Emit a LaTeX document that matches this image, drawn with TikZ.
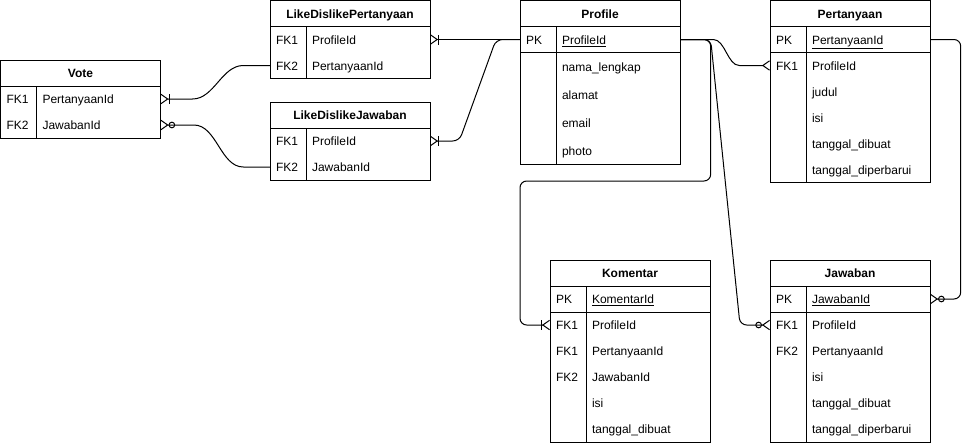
\documentclass[tikz,border=0pt]{standalone}
\usepackage{fontspec}
\setmainfont{Liberation Sans}
\usetikzlibrary{positioning, fit, arrows.meta}

\tikzset{
	erpicture/.style = {
		x = 0.75pt,
		y = -0.75pt,
		line width = 0.75pt,
		font = \fontsize{9}{11}\selectfont,
		relation/.style = {
			draw,
			rounded corners = 5pt,
		}
	},
	tabletitle/.style = {
		draw,
		anchor = north west,
		minimum width = 120pt,
		minimum height = 19.5pt,
		text height = 7pt,
		text depth = 0pt,
		inner sep = 0pt,
		outer sep = 0pt,
		font = \fontsize{9}{11}\selectfont\bfseries
	},
	tablebody/.style = {
		draw,
		inner sep = 0pt
	},
	keycell/.style = {
		minimum height = 19.5pt,
		text height = 7pt,
		text depth = 0pt,
		text width = 18pt,
		align = left,
		inner xsep = 4.5pt,
		inner ysep = 0pt,
		outer sep = 0pt
	},
	fieldcell/.style = {
		minimum height = 19.5pt,
		text height = 7pt,
		text depth = 0pt,
		text width = 84pt,
		align = left,
		inner xsep = 4.5pt,
		inner ysep = 0pt,
		outer sep = 0pt
	},
	tallcell/.style = {
		minimum height = 21pt
	},
	many/.style = {
		-{Straight Barb[reversed, length = 5pt, width = 7pt]}
	},
	one-many/.style = {
		-{Bar[width = 7.5pt] Straight Barb[reversed, length = 5pt, width = 7pt]}
	},
	zero-many/.style = {
		-{Circle[open, length = 5pt] Straight Barb[reversed, length = 5pt, width = 7pt]}
	}
}

\begin{document}
\begin{tikzpicture}[erpicture]
	\useasboundingbox (0, 0) rectangle (970, 446);

	% Vote
	\node[tabletitle] (vote) at (0.5, 60) {Vote};
	\node[keycell, below right = 0pt and 0pt of vote.south west] (vote-k1) {FK1};
	\node[fieldcell, right = 0pt of vote-k1] (vote-f1) {PertanyaanId};
	\node[keycell, below = 0pt of vote-k1] (vote-k2) {FK2};
	\node[fieldcell, right = 0pt of vote-k2] (vote-f2) {JawabanId};
	\node[tablebody, fit = (vote-k1) (vote-f2)] {};
	\draw (vote-k1.north east) -- (vote-k2.south east);

	% LikeDislikePertanyaan
	\node[tabletitle] (ldp) at (270, 0.5) {LikeDislikePertanyaan};
	\node[keycell, below right = 0pt and 0pt of ldp.south west] (ldp-k1) {FK1};
	\node[fieldcell, right = 0pt of ldp-k1] (ldp-f1) {ProfileId};
	\node[keycell, below = 0pt of ldp-k1] (ldp-k2) {FK2};
	\node[fieldcell, right = 0pt of ldp-k2] (ldp-f2) {PertanyaanId};
	\node[tablebody, fit = (ldp-k1) (ldp-f2)] {};
	\draw (ldp-k1.north east) -- (ldp-k2.south east);

	% LikeDislikeJawaban
	\node[tabletitle] (ldj) at (270, 102) {LikeDislikeJawaban};
	\node[keycell, below right = 0pt and 0pt of ldj.south west] (ldj-k1) {FK1};
	\node[fieldcell, right = 0pt of ldj-k1] (ldj-f1) {ProfileId};
	\node[keycell, below = 0pt of ldj-k1] (ldj-k2) {FK2};
	\node[fieldcell, right = 0pt of ldj-k2] (ldj-f2) {JawabanId};
	\node[tablebody, fit = (ldj-k1) (ldj-f2)] {};
	\draw (ldj-k1.north east) -- (ldj-k2.south east);

	% Profile
	\node[tabletitle] (prof) at (520, 0.5) {Profile};
	\node[keycell, below right = 0pt and 0pt of prof.south west] (prof-k1) {PK};
	\node[fieldcell, right = 0pt of prof-k1] (prof-f1) {\underline{ProfileId}};
	\node[keycell, tallcell, below = 0pt of prof-k1] (prof-k2) {};
	\node[fieldcell, tallcell, right = 0pt of prof-k2] (prof-f2) {nama\_lengkap};
	\node[keycell, tallcell, below = 0pt of prof-k2] (prof-k3) {};
	\node[fieldcell, tallcell, right = 0pt of prof-k3] (prof-f3) {alamat};
	\node[keycell, tallcell, below = 0pt of prof-k3] (prof-k4) {};
	\node[fieldcell, tallcell, right = 0pt of prof-k4] (prof-f4) {email};
	\node[keycell, tallcell, below = 0pt of prof-k4] (prof-k5) {};
	\node[fieldcell, tallcell, right = 0pt of prof-k5] (prof-f5) {photo};
	\node[tablebody, fit = (prof-k1) (prof-f5)] {};
	\draw (prof-k1.north east) -- (prof-k5.south east);
	\draw (prof-k1.south west) -- (prof-f1.south east);

	% Pertanyaan
	\node[tabletitle] (pert) at (770, 0.5) {Pertanyaan};
	\node[keycell, below right = 0pt and 0pt of pert.south west] (pert-k1) {PK};
	\node[fieldcell, right = 0pt of pert-k1] (pert-f1) {\underline{PertanyaanId}};
	\node[keycell, below = 0pt of pert-k1] (pert-k2) {FK1};
	\node[fieldcell, right = 0pt of pert-k2] (pert-f2) {ProfileId};
	\node[keycell, below = 0pt of pert-k2] (pert-k3) {};
	\node[fieldcell, right = 0pt of pert-k3] (pert-f3) {judul};
	\node[keycell, below = 0pt of pert-k3] (pert-k4) {};
	\node[fieldcell, right = 0pt of pert-k4] (pert-f4) {isi};
	\node[keycell, below = 0pt of pert-k4] (pert-k5) {};
	\node[fieldcell, right = 0pt of pert-k5] (pert-f5) {tanggal\_dibuat};
	\node[keycell, below = 0pt of pert-k5] (pert-k6) {};
	\node[fieldcell, right = 0pt of pert-k6] (pert-f6) {tanggal\_diperbarui};
	\node[tablebody, fit = (pert-k1) (pert-f6)] {};
	\draw (pert-k1.north east) -- (pert-k6.south east);
	\draw (pert-k1.south west) -- (pert-f1.south east);

	% Komentar
	\node[tabletitle] (kom) at (550, 260) {Komentar};
	\node[keycell, below right = 0pt and 0pt of kom.south west] (kom-k1) {PK};
	\node[fieldcell, right = 0pt of kom-k1] (kom-f1) {\underline{KomentarId}};
	\node[keycell, below = 0pt of kom-k1] (kom-k2) {FK1};
	\node[fieldcell, right = 0pt of kom-k2] (kom-f2) {ProfileId};
	\node[keycell, below = 0pt of kom-k2] (kom-k3) {FK1};
	\node[fieldcell, right = 0pt of kom-k3] (kom-f3) {PertanyaanId};
	\node[keycell, below = 0pt of kom-k3] (kom-k4) {FK2};
	\node[fieldcell, right = 0pt of kom-k4] (kom-f4) {JawabanId};
	\node[keycell, below = 0pt of kom-k4] (kom-k5) {};
	\node[fieldcell, right = 0pt of kom-k5] (kom-f5) {isi};
	\node[keycell, below = 0pt of kom-k5] (kom-k6) {};
	\node[fieldcell, right = 0pt of kom-k6] (kom-f6) {tanggal\_dibuat};
	\node[tablebody, fit = (kom-k1) (kom-f6)] {};
	\draw (kom-k1.north east) -- (kom-k6.south east);
	\draw (kom-k1.south west) -- (kom-f1.south east);

	% Jawaban
	\node[tabletitle] (jaw) at (770, 260) {Jawaban};
	\node[keycell, below right = 0pt and 0pt of jaw.south west] (jaw-k1) {PK};
	\node[fieldcell, right = 0pt of jaw-k1] (jaw-f1) {\underline{JawabanId}};
	\node[keycell, below = 0pt of jaw-k1] (jaw-k2) {FK1};
	\node[fieldcell, right = 0pt of jaw-k2] (jaw-f2) {ProfileId};
	\node[keycell, below = 0pt of jaw-k2] (jaw-k3) {FK2};
	\node[fieldcell, right = 0pt of jaw-k3] (jaw-f3) {PertanyaanId};
	\node[keycell, below = 0pt of jaw-k3] (jaw-k4) {};
	\node[fieldcell, right = 0pt of jaw-k4] (jaw-f4) {isi};
	\node[keycell, below = 0pt of jaw-k4] (jaw-k5) {};
	\node[fieldcell, right = 0pt of jaw-k5] (jaw-f5) {tanggal\_dibuat};
	\node[keycell, below = 0pt of jaw-k5] (jaw-k6) {};
	\node[fieldcell, right = 0pt of jaw-k6] (jaw-f6) {tanggal\_diperbarui};
	\node[tablebody, fit = (jaw-k1) (jaw-f6)] {};
	\draw (jaw-k1.north east) -- (jaw-k6.south east);
	\draw (jaw-k1.south west) -- (jaw-f1.south east);

	\coordinate (kom-bend) at (520, 181);

	\begin{scope}[every path/.style = relation]
		\path[one-many] (ldp-k2.west) -- ([xshift = -15pt] ldp-k2.west) to[out = 180, in = 0] ([xshift = 19pt] vote-f1.east) -- (vote-f1.east);
		\path[zero-many] (ldj-k2.west) -- ([xshift = -15pt] ldj-k2.west) to[out = 180, in = 0] ([xshift = 20pt] vote-f2.east) -- (vote-f2.east);
		\path[one-many] (prof-k1.west) -- (ldp-f1.east);
		\path[one-many] (prof-k1.west) -- ([xshift = -18pt] prof-k1.west) -- ([xshift = 22pt] ldj-f1.east) -- (ldj-f1.east);

		\path[many] (prof-f1.east) -- ([xshift = 20pt] prof-f1.east) to[out = 0, in = 180] ([xshift = -18pt] pert-k2.west) -- (pert-k2.west);
		\path[one-many] (prof-f1.east) -- ([xshift = 23pt] prof-f1.east) |- (kom-bend) |- (kom-k2.west);
		\path[zero-many] (prof-f1.east) -- ([xshift = 23pt] prof-f1.east) -- ([xshift = -22.5pt] jaw-k2.west) -- (jaw-k2.west);
		\path[zero-many] (pert-f1.east) -- ([xshift = 23pt] pert-f1.east) |- (jaw-f1.east);
	\end{scope}
\end{tikzpicture}
\end{document}
